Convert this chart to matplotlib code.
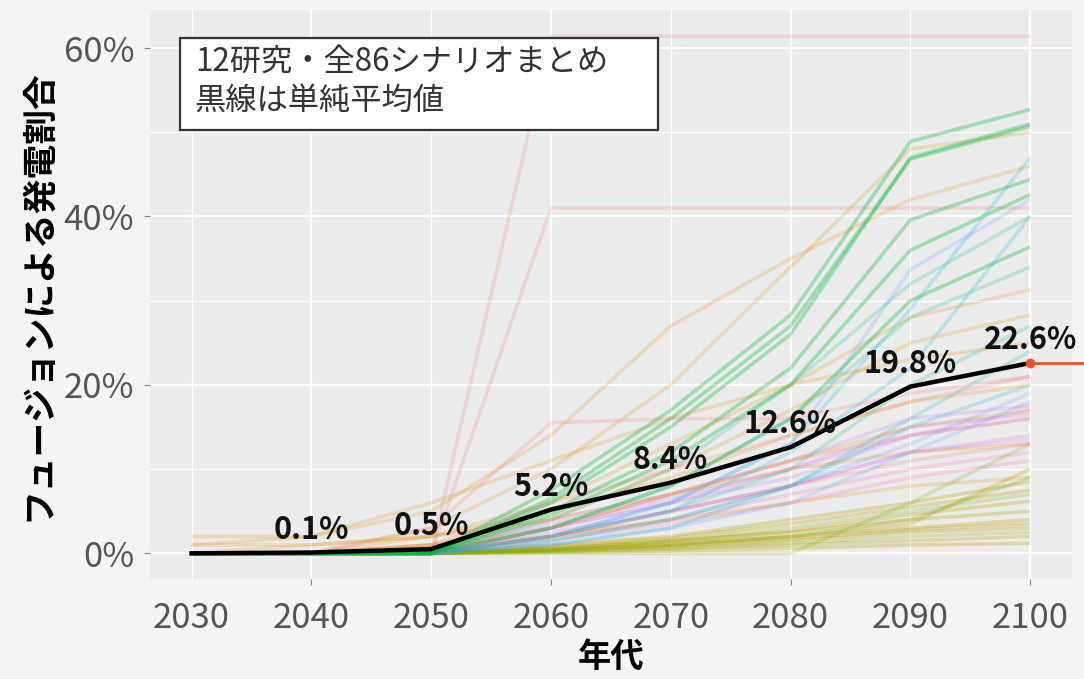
import numpy as np
import matplotlib
matplotlib.use("Agg")
import matplotlib.pyplot as plt
from matplotlib.patches import Rectangle

plt.rcParams['font.family'] = ['Noto Sans CJK JP', 'DejaVu Sans']

years = [2030, 2040, 2050, 2060, 2070, 2080, 2090, 2100]

# simple average of all scenarios (%), shown as the black line
mean_share = [0.0, 0.1, 0.5, 5.2, 8.4, 12.6, 19.8, 22.6]

# ggplot hue colours, one per study
study_colors = {
    "red": "#F8766D", "orange": "#DE8C00", "olive": "#B79F00",
    "lime": "#7CAE00", "green": "#00BA38", "teal": "#00C08B",
    "cyan": "#00BFC4", "blue": "#00B4F0", "periwinkle": "#619CFF",
    "purple": "#C77CFF", "magenta": "#F564E3", "pink": "#FF64B0",
}

# scenario values (%) per study
scen_red = [
    [0, 0, 0, 61.4, 61.4, 61.4, 61.4, 61.4],
    [0, 0, 0, 41.0, 41.0, 41.0, 41.0, 41.0],
    [0, 0, 3, 15.5, 16.0, 16.0, 19.0, 21.0],
    [0, 0, 1, 6, 10, 14, 18, 21],
    [0, 0, 0, 3, 7, 11, 14, 16],
    [0, 0, 0, 2, 5, 8, 11, 13],
]
scen_orange = [
    [1, 2, 5, 14, 27, 35, 42, 46],
    [0, 0, 3, 10, 20, 34, 48, 50],
    [0, 0, 2, 6, 13, 20, 28, 31.3],
    [0, 0, 1, 4, 10, 17, 25, 28.3],
    [2, 2, 6, 11, 16, 20, 23, 25],
    [0, 1, 2, 5, 9, 14, 18, 20],
    [0, 0, 1, 3, 7, 11, 15, 17],
    [1, 1, 2, 4, 7, 10, 12, 13],
    [0, 0, 1, 2, 4, 6, 8, 9],
]
scen_olive = [
    [0, 0, 0, 1.0, 2.0, 4.0, 6.0, 8.5],
    [0, 0, 0, 0.8, 1.8, 3.5, 5.5, 7.5],
    [0, 0, 0, 0.6, 1.5, 2.5, 4.0, 5.0],
    [0, 0, 0, 0.5, 1.0, 2.0, 3.0, 4.0],
    [0, 0, 0, 0.4, 0.9, 1.7, 2.8, 3.5],
    [0, 0, 0, 0.3, 0.8, 1.5, 2.5, 3.0],
    [0, 0, 0, 0.2, 0.5, 1.0, 1.5, 2.0],
    [0, 0, 0, 0.1, 0.3, 0.6, 1.0, 1.2],
    [0, 0, 0, 0.4, 1.2, 2.0, 3.5, 10.0],
    [0, 0, 0, 0.6, 1.4, 2.6, 4.6, 6.2],
]
scen_lime = [
    [0, 0, 0, 0, 0, 0, 6, 13],
    [0, 0, 0, 0.5, 1.5, 3.0, 5.0, 7.0],
    [0, 0, 0, 0.3, 1.0, 2.0, 4.0, 9.0],
    [0, 0, 0, 0.2, 0.6, 1.2, 2.0, 2.5],
]
scen_green = [
    [0, 0, 0, 7.5, 17, 28.3, 48.9, 52.7],
    [0, 0, 0, 6.5, 16, 27.0, 46.8, 50.7],
    [0, 0, 0, 6.0, 15, 26.0, 47.0, 51.0],
    [0, 0, 0, 5.0, 12, 22.0, 39.6, 44.4],
    [0, 0, 0, 4.5, 11, 20.0, 36.0, 42.6],
    [0, 0, 0, 3.0, 8, 16.0, 30.0, 36.4],
]
scen_teal = [
    [0, 0, 0, 4, 10, 20, 32, 40],
    [0, 0, 0, 3, 8, 16, 28, 34],
    [0, 0, 0, 2, 5, 10, 20, 27],
    [0, 0, 0, 1.5, 4, 8, 16, 24],
]
scen_blue = [
    [0, 0, 0, 2, 6, 13, 29, 47],
    [0, 0, 0, 2, 5, 12, 22, 40],
    [0, 0, 0, 1, 3, 8, 15, 20],
]
scen_periwinkle = [
    [0, 0, 0, 2, 6, 13, 33.7, 42],
    [0, 0, 0, 1, 3, 6, 12, 18],
    [0, 0, 0, 1.5, 4, 8, 13, 19],
]
scen_purple = [
    [0, 0, 0, 4.0, 7.0, 11, 16, 17.5],
    [0, 0, 0, 3.5, 6.5, 10, 15, 16.5],
    [0, 0, 0, 3.0, 6.0, 9, 14, 16.0],
    [0, 0, 0, 2.5, 5.0, 8, 12, 14.0],
]
scen_magenta = [
    [0, 0, 0, 3, 6, 10, 14, 17],
    [0, 0, 0, 2, 5, 8, 12, 13.5],
]
scen_pink = [
    [0, 0, 0, 2.0, 4.0, 7, 10, 12],
    [0, 0, 0, 1.5, 3.5, 6, 9, 11],
]

groups = [
    ("olive", scen_olive, 0.28), ("lime", scen_lime, 0.22),
    ("pink", scen_pink, 0.2), ("magenta", scen_magenta, 0.2),
    ("purple", scen_purple, 0.22), ("periwinkle", scen_periwinkle, 0.2),
    ("blue", scen_blue, 0.2), ("teal", scen_teal, 0.2),
    ("orange", scen_orange, 0.2), ("red", scen_red, 0.2),
    ("green", scen_green, 0.32),
]

fig = plt.figure(figsize=(10.84, 6.79), dpi=100, facecolor="#f4f4f4")
ax = fig.add_axes([0.138, 0.147, 0.851, 0.838])
ax.set_facecolor("#ebebeb")

for key, scen, a in groups:
    for vals in scen:
        ax.plot(years, vals, color=study_colors[key], lw=2.6, alpha=a,
                solid_capstyle="butt")

ax.plot(years, mean_share, color="black", lw=3.2, zorder=5)
for x, v in zip(years[1:], mean_share[1:]):
    ax.annotate(f"{v}%", (x, v), xytext=(0, 5), textcoords="offset points",
                ha="center", va="bottom", fontsize=22, fontweight="bold",
                color="#111111", zorder=6)

# marker at the 2100 average, running out to the right
ax.plot([years[-1], 2106], [mean_share[-1], mean_share[-1]],
        color="#e8541e", lw=2, clip_on=False, zorder=6)
ax.plot(years[-1], mean_share[-1], "o", color="#e8541e", ms=6,
        clip_on=False, zorder=7)

ax.set_xlim(2026.5, 2103.5)
ax.set_ylim(-3.07, 64.5)

ax.set_xticks([2040, 2060, 2080, 2100], labels=["2040", "2060", "2080", "2100"])
ax.set_xticks([2030, 2050, 2070, 2090], labels=["2030", "2050", "2070", "2090"],
              minor=True)
ax.set_yticks([0, 20, 40, 60], labels=["0%", "20%", "40%", "60%"])
ax.set_yticks([10, 30, 50], minor=True)

ax.tick_params(axis="both", which="major", length=4, color="#888888",
               labelsize=25, labelcolor="#555555")
ax.tick_params(axis="x", which="major", pad=12)
ax.tick_params(axis="x", which="minor", length=0, pad=16, labelsize=25,
               labelcolor="#555555")
ax.tick_params(axis="y", which="major", pad=7)
ax.tick_params(axis="y", which="minor", length=0)

ax.grid(which="major", color="white", lw=1.6)
ax.grid(which="minor", color="white", lw=0.8)
ax.set_axisbelow(True)
for s in ax.spines.values():
    s.set_visible(False)

ax.set_xlabel("年代", fontsize=24, fontweight="bold", labelpad=3)
ax.set_ylabel("フュージョンによる発電割合", fontsize=25, fontweight="bold",
              labelpad=6)

# note box in the upper left of the panel
ax.add_patch(Rectangle((0.0325, 0.789), 0.5185, 0.162, transform=ax.transAxes,
                       fc="white", ec="#333333", lw=1.6, zorder=8))
ax.text(0.049, 0.875, "12研究・全86シナリオまとめ\n黒線は単純平均値",
        transform=ax.transAxes, ha="left", va="center", fontsize=22.5,
        color="#333333", linespacing=1.25, zorder=9)

fig.savefig("out.png", dpi=100, facecolor=fig.get_facecolor())
